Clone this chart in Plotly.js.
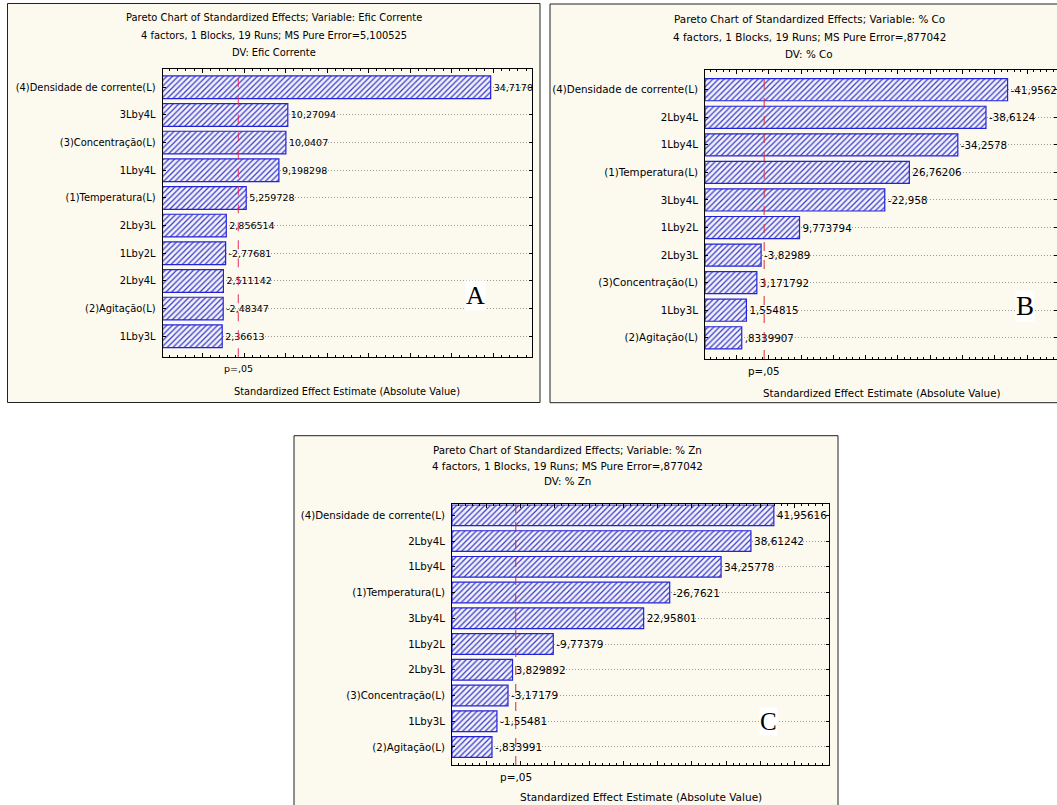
<!DOCTYPE html>
<html><head><meta charset="utf-8">
<script src="https://cdn.plot.ly/plotly-3.0.1.min.js"></script>
<style>html,body{margin:0;padding:0;background:#fff}#chart{width:1057px;height:805px}</style>
</head><body><div id="chart"></div>
<script>
// ---------------- DATA ----------------
const effectsA = ["(4)Densidade de corrente(L)","3Lby4L","(3)Concentração(L)","1Lby4L","(1)Temperatura(L)","2Lby3L","1Lby2L","2Lby4L","(2)Agitação(L)","1Lby3L"];
const valuesA  = [34.71706, 10.27094, 10.0407, 9.198298, 5.259728, 2.856514, -2.77681, 2.511142, -2.48347, 2.36613];
const effectsB = ["(4)Densidade de corrente(L)","2Lby4L","1Lby4L","(1)Temperatura(L)","3Lby4L","1Lby2L","2Lby3L","(3)Concentração(L)","1Lby3L","(2)Agitação(L)"];
const valuesB  = [-41.9562, -38.6124, -34.2578, 26.76206, -22.958, 9.773794, -3.82989, 3.171792, 1.554815, 0.8339907];
const effectsC = ["(4)Densidade de corrente(L)","2Lby4L","1Lby4L","(1)Temperatura(L)","3Lby4L","1Lby2L","2Lby3L","(3)Concentração(L)","1Lby3L","(2)Agitação(L)"];
const valuesC  = [41.95616, 38.61242, 34.25778, -26.7621, 22.95801, -9.77379, 3.829892, -3.17179, -1.55481, -0.833991];
const pCritical = 4.3027;           // p = .05 reference line
const pLabel = "p=,05";
const titlesA = ["Pareto Chart of Standardized Effects; Variable: Efic Corrente","4 factors, 1 Blocks, 19 Runs; MS Pure Error=5,100525","DV: Efic Corrente"];
const titlesB = ["Pareto Chart of Standardized Effects; Variable: % Co","4 factors, 1 Blocks, 19 Runs; MS Pure Error=,877042","DV: % Co"];
const titlesC = ["Pareto Chart of Standardized Effects; Variable: % Zn","4 factors, 1 Blocks, 19 Runs; MS Pure Error=,877042","DV: % Zn"];
const xAxisTitle = "Standardized Effect Estimate (Absolute Value)";
const panelLetters = ["A","B","C"];

// ---------------- LAYOUT / STYLE ----------------
const W = 1057, H = 805;
const PX = p => p / W, PY = p => 1 - p / H;
const FONT = "DejaVu Sans";
const panels = [
  {eff: effectsA, val: valuesA, titles: titlesA, letter: panelLetters[0],
   box: [7.5, 3.5, 540, 402.5], plot: [162.5, 69.3, 532, 357.3], xr: [-4.83, 39.7], yr: [9.76, -0.65],
   titleX: 274, titleY: [17.6, 35.4, 53], titleSize: 9.9, labelSize: 9.9, valueSize: 9.5,
   pY: 369, axTitleX: 347, axTitleY: 391, axTitleSize: 9.8,
   letterXY: [475, 296], letterSize: 26, barW: 0.82, redColor: "#e0306a"},
  {eff: effectsB, val: valuesB, titles: titlesB, letter: panelLetters[1],
   box: [550, 4, 1068, 402.7], plot: [705, 70, 1057, 359], xr: [-4.85, 49.6], yr: [9.77, -0.715],
   titleX: 809, titleY: [19, 36.7, 54], titleSize: 10.4, labelSize: 10.3, valueSize: 10.3,
   pY: 371, axTitleX: 882, axTitleY: 393, axTitleSize: 10.3,
   letterXY: [1025, 306], letterSize: 27, barW: 0.8, redColor: "#d83030"},
  {eff: effectsC, val: valuesC, titles: titlesC, letter: panelLetters[2],
   box: [294, 435.7, 838, 812], plot: [452, 504.3, 829, 765], xr: [-5.0, 50], yr: [9.70, -0.427],
   titleX: 567, titleY: [450.5, 465.7, 480.5], titleSize: 10.3, labelSize: 10.2, valueSize: 10.5,
   pY: 777, axTitleX: 641, axTitleY: 797, axTitleSize: 10.5,
   letterXY: [768, 721], letterSize: 25, barW: 0.8, redColor: "#d02838"}
];

function fmt(v) {
  let s = String(Number(v.toPrecision(7)));
  s = s.replace(/^(-?)0\./, "$1.");
  return s.replace(".", ",");
}

const traces = [], shapes = [], annotations = [];
const layout = {
  width: W, height: H, margin: {l: 0, r: 0, t: 0, b: 0},
  paper_bgcolor: "#ffffff", plot_bgcolor: "#ffffff", showlegend: false,
  font: {family: FONT, size: 10, color: "#000"},
  shapes, annotations
};

panels.forEach((p, i) => {
  const sfx = i === 0 ? "" : String(i + 1);
  const xa = "x" + sfx, ya = "y" + sfx;
  shapes.push({type: "rect", xref: "paper", yref: "paper", layer: "below",
    x0: PX(p.box[0]), x1: PX(p.box[2]), y0: PY(p.box[3]), y1: PY(p.box[1]),
    fillcolor: "#fcf9ef", line: {color: "#222", width: 1}});
  traces.push({
    type: "bar", orientation: "h", xaxis: xa, yaxis: ya,
    y: p.eff, x: p.val.map(v => Math.abs(v) - p.xr[0]), base: p.xr[0],
    width: p.barW,
    marker: {color: "#ffffff", line: {color: "#2323dc", width: 1.2},
      pattern: {shape: "/", fgcolor: "#3b3bc8", bgcolor: "#f3f3fb", size: 4, solidity: 0.32}},
    text: p.val.map(fmt), textposition: "outside", constraintext: "none", cliponaxis: true,
    textfont: {family: FONT, size: p.valueSize, color: "#000"}, hoverinfo: "skip"
  });
  layout["xaxis" + sfx] = {
    domain: [PX(p.plot[0]), Math.min(1, PX(p.plot[2]))], anchor: ya, range: p.xr,
    showticklabels: false, ticks: "inside", tick0: 0, dtick: 5, ticklen: 4, tickcolor: "#000",
    minor: {ticks: "inside", dtick: 1, ticklen: 2, tickcolor: "#000"},
    showline: true, linecolor: "#000", linewidth: 1, mirror: "ticks",
    showgrid: false, zeroline: false, fixedrange: true
  };
  layout["yaxis" + sfx] = {
    domain: [PY(p.plot[3]), PY(p.plot[1])], anchor: xa, type: "category",
    categoryorder: "array", categoryarray: p.eff, range: p.yr,
    ticks: "inside", ticklen: 3, tickcolor: "#000", ticklabelstandoff: 4,
    tickfont: {family: FONT, size: p.labelSize, color: "#000"},
    showline: true, linecolor: "#000", linewidth: 1, mirror: "ticks",
    showgrid: true, gridcolor: "#9a9a9a", griddash: "1px,2px", gridwidth: 1,
    zeroline: false, fixedrange: true
  };
  shapes.push({type: "line", xref: xa, yref: ya + " domain", x0: pCritical, x1: pCritical, y0: 0, y1: 1,
    line: {color: p.redColor, width: 1, dash: "dash"}});
  p.titles.forEach((t, k) => annotations.push({xref: "paper", yref: "paper", x: PX(p.titleX), y: PY(p.titleY[k]),
    xanchor: "center", yanchor: "middle", showarrow: false, text: t, font: {family: FONT, size: p.titleSize, color: "#000"}}));
  annotations.push({xref: xa, yref: "paper", x: pCritical, y: PY(p.pY), xanchor: "center", yanchor: "middle",
    showarrow: false, text: pLabel, font: {family: FONT, size: p.valueSize, color: "#000"}});
  annotations.push({xref: "paper", yref: "paper", x: PX(p.axTitleX), y: PY(p.axTitleY), xanchor: "center", yanchor: "middle",
    showarrow: false, text: xAxisTitle, font: {family: FONT, size: p.axTitleSize, color: "#000"}});
  annotations.push({xref: "paper", yref: "paper", x: PX(p.letterXY[0]), y: PY(p.letterXY[1]), xanchor: "center", yanchor: "middle",
    showarrow: false, text: p.letter, bgcolor: "#ffffff", borderpad: 0,
    font: {family: "Liberation Serif", size: p.letterSize, color: "#000"}});
});

Plotly.newPlot("chart", traces, layout, {staticPlot: true, displayModeBar: false});
</script>
</body></html>
